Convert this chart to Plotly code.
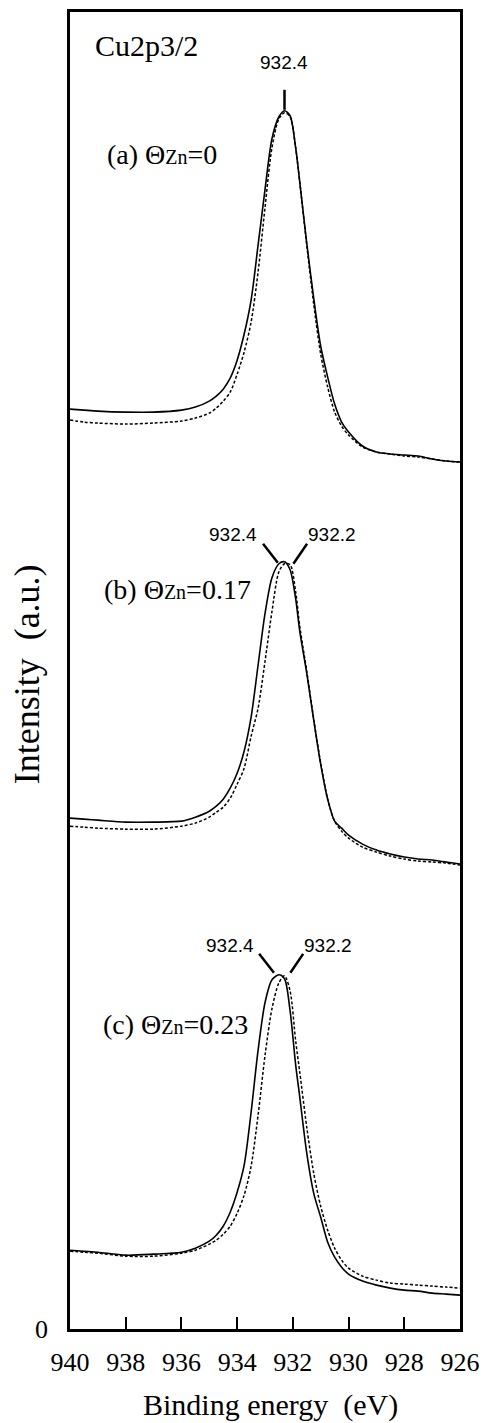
import plotly.graph_objects as go

# Binding energy grid (eV)
energy = [940, 939.5, 939, 938, 937, 936, 935.5, 935, 934.75, 934.5, 934.25, 934,
          933.75, 933.5, 933.25, 933, 932.75, 932.5, 932.3, 932.1, 931.9, 931.75,
          931.5, 931.25, 931, 930.75, 930.5, 930.25, 930, 929.5, 929, 928.5, 928,
          927.5, 927, 926.5, 926]

# (a) Theta_Zn = 0
a_solid = [922, 921, 920, 919, 919, 921, 924, 930, 935, 942, 953, 971,
           997, 1031, 1086, 1142, 1193, 1215, 1221, 1216, 1184, 1149,
           1088, 1033, 985, 954, 927, 909, 899, 885, 879, 877, 876,
           875, 872, 870, 869]
a_dashed = [911, 909, 908, 907, 908, 910, 913, 918, 923, 930, 939, 957,
            979, 1009, 1059, 1124, 1184, 1213, 1219, 1215, 1184, 1149,
            1086, 1027, 977, 944, 919, 905, 896, 884, 879, 877, 875,
            874, 872, 870, 869]

# (b) Theta_Zn = 0.17
b_solid = [512, 511, 510, 508, 508, 509, 513, 519, 524, 531, 542, 557,
           579, 613, 665, 717, 753, 767, 769, 761, 732, 699,
           657, 610, 566, 531, 509, 502, 495, 486, 480, 476, 473,
           471, 470, 468, 466]
b_dashed = [504, 503, 502, 501, 501, 504, 507, 513, 518, 523, 532, 546,
            562, 594, 622, 669, 719, 759, 767, 766, 739, 704,
            659, 611, 567, 531, 509, 499, 492, 483, 478, 474, 471,
            469, 468, 467, 465]

# (c) Theta_Zn = 0.23
c_solid = [79, 78, 77, 74, 75, 77, 81, 88, 94, 103, 117, 137,
           164, 217, 279, 327, 350, 355, 351, 319, 265, 232,
           176, 136, 112, 87, 72, 62, 55, 48, 44, 41, 39,
           38, 36, 35, 34]
c_dashed = [78, 77, 76, 73, 73, 76, 79, 85, 89, 95, 103, 116,
            134, 163, 214, 274, 321, 347, 354, 339, 289, 257,
            202, 156, 123, 99, 81, 69, 61, 53, 49, 46, 45,
            44, 43, 42, 41]

x_ticks = [940, 938, 936, 934, 932, 930, 928, 926]

SERIF = "Liberation Serif"
SANS = "Liberation Sans"

fig = go.Figure()
for solid, dashed in [(a_solid, a_dashed), (b_solid, b_dashed), (c_solid, c_dashed)]:
    fig.add_trace(go.Scatter(x=energy, y=dashed, mode="lines",
                             line=dict(color="black", width=1.5, dash="3px,2px", shape="spline", smoothing=0.8),
                             showlegend=False, hoverinfo="skip"))
    fig.add_trace(go.Scatter(x=energy, y=solid, mode="lines",
                             line=dict(color="black", width=1.6, shape="spline", smoothing=0.8),
                             showlegend=False, hoverinfo="skip"))

# peak marker lines
marker_lines = [
    (932.30, 1222, 932.30, 1242),
    (932.54, 768, 933.07, 787),
    (931.98, 767, 931.49, 787),
    (932.68, 357, 933.21, 376),
    (932.09, 357, 931.63, 376),
]
for x0, y0, x1, y1 in marker_lines:
    fig.add_shape(type="line", xref="x", yref="y", x0=x0, y0=y0, x1=x1, y1=y1,
                  line=dict(color="black", width=2.5))

peak_texts = [
    ("932.4", 932.33, 1269),
    ("932.4", 934.16, 796),
    ("932.2", 930.61, 796),
    ("932.4", 934.27, 384),
    ("932.2", 930.75, 384),
]
annotations = []
for t, xx, yy in peak_texts:
    annotations.append(dict(text=t, x=xx, y=yy, xref="x", yref="y", showarrow=False,
                            xanchor="center", yanchor="middle",
                            font=dict(family=SANS, size=19, color="black")))

zn = "<span style='font-size:20px'>Zn</span>"
sample_labels = [
    ("(a) Θ" + zn + "=0", 938.73, 1177),
    ("(b) Θ" + zn + "=0.17", 938.84, 741),
    ("(c) Θ" + zn + "=0.23", 938.87, 305),
]
for t, xx, yy in sample_labels:
    annotations.append(dict(text=t, x=xx, y=yy, xref="x", yref="y", showarrow=False,
                            xanchor="left", yanchor="middle",
                            font=dict(family=SERIF, size=28, color="black")))

annotations.append(dict(text="Cu2p3/2", x=937.24, y=1286, xref="x", yref="y", showarrow=False,
                        xanchor="center", yanchor="middle",
                        font=dict(family=SERIF, size=30, color="black")))
annotations.append(dict(text="Intensity\u00a0 (a.u.)", x=-0.108, y=0.497, xref="paper", yref="paper",
                        showarrow=False, textangle=-90, xanchor="center", yanchor="middle",
                        font=dict(family=SERIF, size=36, color="black")))
annotations.append(dict(text="Binding energy\u00a0 (eV)", x=0.513, y=-0.0576, xref="paper", yref="paper",
                        showarrow=False, xanchor="center", yanchor="middle",
                        font=dict(family=SERIF, size=30, color="black")))

fig.update_layout(
    width=489, height=1423,
    margin=dict(l=70, r=21, t=9, b=94, pad=0),
    paper_bgcolor="white", plot_bgcolor="white",
    annotations=annotations,
    showlegend=False,
)
fig.update_xaxes(range=[940, 926], tickvals=x_ticks, ticktext=[str(v) for v in x_ticks],
                 ticks="inside", ticklen=12, tickwidth=2, tickcolor="black",
                 showline=True, linewidth=2.5, linecolor="black", mirror=True,
                 showgrid=False, zeroline=False, ticklabelstandoff=8,
                 tickfont=dict(family=SERIF, size=26, color="black"))
fig.update_yaxes(range=[0, 1320], tickvals=[0], ticktext=["0"], ticks="",
                 showline=True, linewidth=2.5, linecolor="black", mirror=True,
                 showgrid=False, zeroline=False, ticklabelstandoff=14,
                 tickfont=dict(family=SERIF, size=26, color="black"))

fig.write_html("out.html")
